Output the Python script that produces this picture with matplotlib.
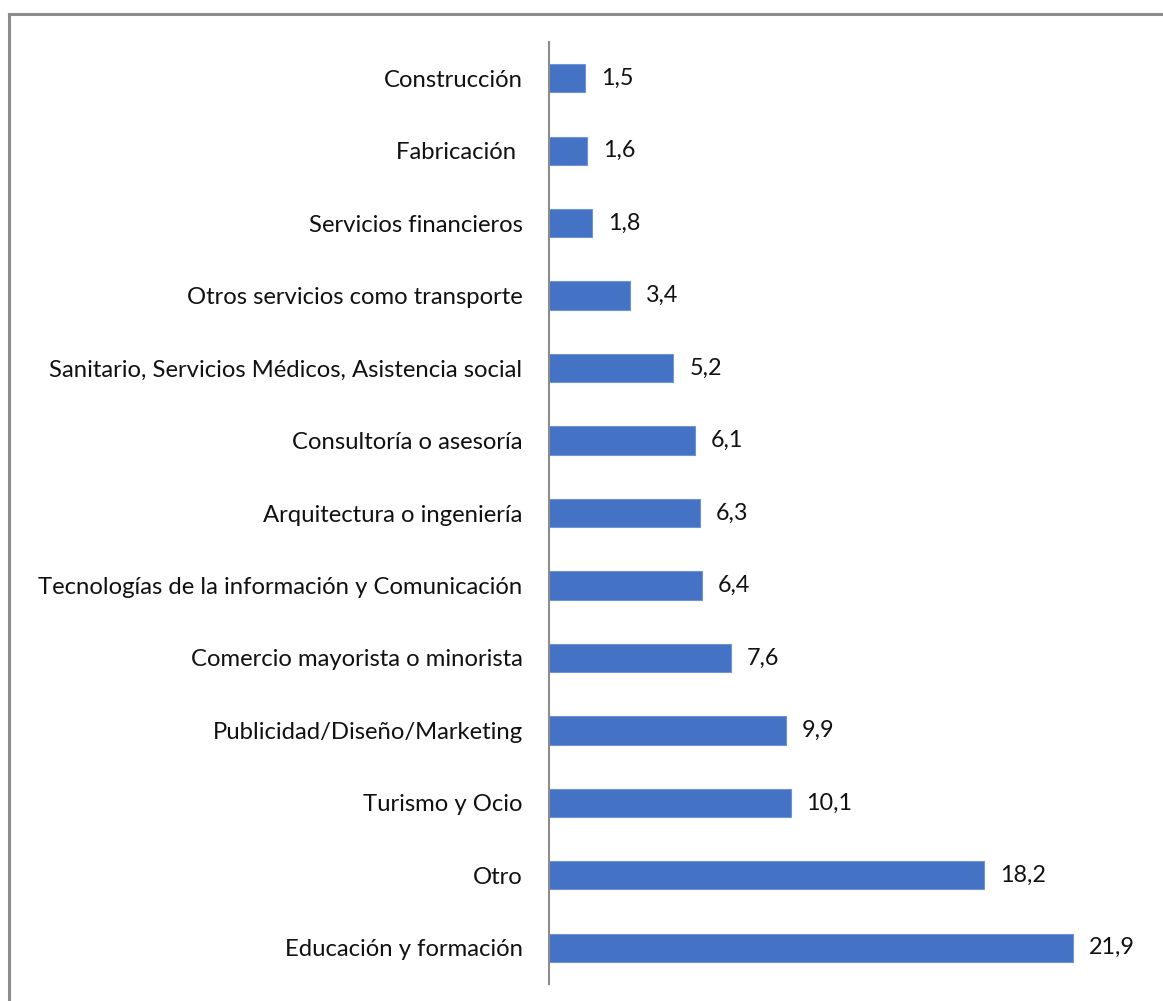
import matplotlib
matplotlib.use("Agg")
import matplotlib.pyplot as plt

# sectores, de arriba a abajo
sectores = [
    "Construcción",
    "Fabricación ",
    "Servicios financieros",
    "Otros servicios como transporte",
    "Sanitario, Servicios Médicos, Asistencia social",
    "Consultoría o asesoría",
    "Arquitectura o ingeniería",
    "Tecnologías de la información y Comunicación",
    "Comercio mayorista o minorista",
    "Publicidad/Diseño/Marketing",
    "Turismo y Ocio",
    "Otro",
    "Educación y formación",
]
porcentajes = [1.5, 1.6, 1.8, 3.4, 5.2, 6.1, 6.3, 6.4, 7.6, 9.9, 10.1, 18.2, 21.9]
etiquetas = ["1,5", "1,6", "1,8", "3,4", "5,2", "6,1", "6,3", "6,4", "7,6", "9,9", "10,1", "18,2", "21,9"]

plt.rcParams['font.family'] = ['Lato', 'DejaVu Sans']

W, H = 1163, 1001
fig = plt.figure(figsize=(W / 100, H / 100), dpi=100)

# marco gris del grafico
fig.add_artist(plt.Line2D([9 / W, 1], [1 - 14 / H, 1 - 14 / H], color='#8c8c8c', lw=2.2, transform=fig.transFigure))
fig.add_artist(plt.Line2D([9 / W, 9 / W], [0, 1 - 14 / H], color='#8c8c8c', lw=2.2, transform=fig.transFigure))

ax = fig.add_axes([549 / W, 1 - 984 / H, (1147 - 549) / W, (984 - 42) / H])

y = list(range(len(sectores)))
ax.barh(y, porcentajes, height=0.39, color='#4472C4', edgecolor='#6f94d6', linewidth=0.8)

# etiquetas de valor al final de cada barra
for yi, v, txt in zip(y, porcentajes, etiquetas):
    ax.annotate(txt, (v, yi), xytext=(16, 0), textcoords='offset pixels',
                va='center', ha='left', fontsize=16.8, color='#111111')

ax.set_xlim(0, 25)
ax.set_ylim(len(sectores) - 0.5, -0.5)
ax.set_yticks(y)
ax.set_yticklabels(sectores, fontsize=17.2, color='#111111')
ax.tick_params(axis='y', length=0, pad=19)
ax.set_xticks([])
for s in ['top', 'right', 'bottom']:
    ax.spines[s].set_visible(False)
ax.spines['left'].set_color('#8c8c8c')
ax.spines['left'].set_linewidth(1.5)

fig.savefig("out.png", dpi=100)
